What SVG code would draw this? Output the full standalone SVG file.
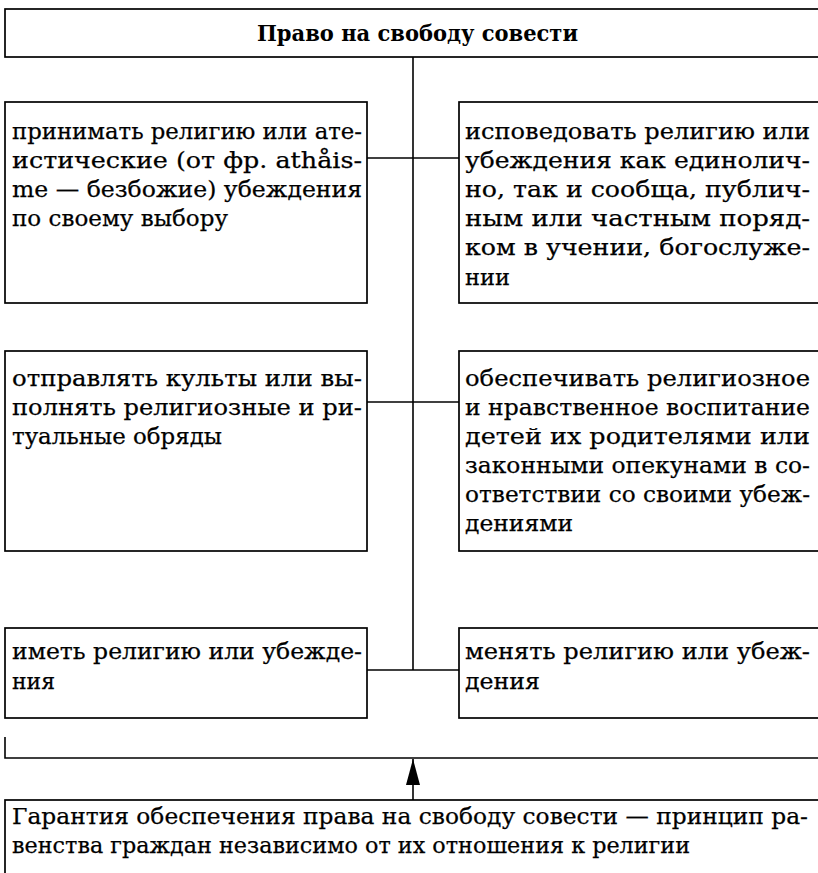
<svg xmlns="http://www.w3.org/2000/svg" width="818" height="873" viewBox="0 0 818 873">
<style>
.box{fill:#fff;stroke:#000;stroke-width:1.7}
.t{font-family:"DejaVu Serif","Liberation Serif",serif;font-size:23px;fill:#000;stroke:#000;stroke-width:0.25}
.h{font-family:"DejaVu Serif","Liberation Serif",serif;font-size:22px;font-weight:bold;fill:#000}
.c{fill:none;stroke:#000;stroke-width:1.6}
</style>
<defs>
<marker id="ah" viewBox="0 0 26 14" refX="26" refY="7" markerWidth="26" markerHeight="14" markerUnits="userSpaceOnUse" orient="auto">
<path d="M0 0 L26 7 L0 14 Z" fill="#000"/>
</marker>
</defs>
<rect width="818" height="873" fill="#fff"/>
<g id="connectors">
<line class="c" x1="413" y1="57" x2="413" y2="670"/>
<line class="c" x1="367" y1="158" x2="459" y2="158"/>
<line class="c" x1="367" y1="402" x2="459" y2="402"/>
<line class="c" x1="367" y1="670" x2="459" y2="670"/>
<path class="c" d="M5 737 V758 H820"/>
<line class="c" x1="413" y1="800" x2="413" y2="759" marker-end="url(#ah)"/>
</g>
<g id="title">
<rect class="box" x="5" y="9" width="820" height="48"/>
<text class="h" x="257" y="41" textLength="321" lengthAdjust="spacingAndGlyphs">Право на свободу совести</text>
</g>
<g id="n1">
<rect class="box" x="5" y="102" width="362" height="201"/>
<text class="t" x="12" y="139" textLength="350" lengthAdjust="spacingAndGlyphs">принимать религию или ате-</text>
<text class="t" x="12" y="168" textLength="350" lengthAdjust="spacingAndGlyphs">истические (от фр.  athåis-</text>
<text class="t" x="12" y="197" textLength="350" lengthAdjust="spacingAndGlyphs">me — безбожие) убеждения</text>
<text class="t" x="12" y="226" textLength="216" lengthAdjust="spacingAndGlyphs">по своему выбору</text>
</g>
<g id="n2">
<rect class="box" x="459" y="102" width="366" height="201"/>
<text class="t" x="465" y="139" textLength="345" lengthAdjust="spacingAndGlyphs">исповедовать религию или</text>
<text class="t" x="465" y="168" textLength="345" lengthAdjust="spacingAndGlyphs">убеждения как единолич-</text>
<text class="t" x="465" y="197" textLength="345" lengthAdjust="spacingAndGlyphs">но, так и сообща, публич-</text>
<text class="t" x="465" y="226" textLength="345" lengthAdjust="spacingAndGlyphs">ным или частным поряд-</text>
<text class="t" x="465" y="255" textLength="345" lengthAdjust="spacingAndGlyphs">ком в учении, богослуже-</text>
<text class="t" x="465" y="285" textLength="45" lengthAdjust="spacingAndGlyphs">нии</text>
</g>
<g id="n3">
<rect class="box" x="5" y="351" width="362" height="200"/>
<text class="t" x="12" y="386" textLength="350" lengthAdjust="spacingAndGlyphs">отправлять культы или вы-</text>
<text class="t" x="12" y="415" textLength="350" lengthAdjust="spacingAndGlyphs">полнять религиозные и ри-</text>
<text class="t" x="12" y="444" textLength="210" lengthAdjust="spacingAndGlyphs">туальные обряды</text>
</g>
<g id="n4">
<rect class="box" x="459" y="351" width="366" height="200"/>
<text class="t" x="465" y="386" textLength="345" lengthAdjust="spacingAndGlyphs">обеспечивать   религиозное</text>
<text class="t" x="465" y="415" textLength="345" lengthAdjust="spacingAndGlyphs">и нравственное воспитание</text>
<text class="t" x="465" y="444" textLength="345" lengthAdjust="spacingAndGlyphs">детей их родителями или</text>
<text class="t" x="465" y="473" textLength="345" lengthAdjust="spacingAndGlyphs">законными опекунами в со-</text>
<text class="t" x="465" y="502" textLength="345" lengthAdjust="spacingAndGlyphs">ответствии со своими убеж-</text>
<text class="t" x="465" y="531" textLength="108" lengthAdjust="spacingAndGlyphs">дениями</text>
</g>
<g id="n5">
<rect class="box" x="5" y="628" width="362" height="90"/>
<text class="t" x="12" y="659" textLength="350" lengthAdjust="spacingAndGlyphs">иметь религию или убежде-</text>
<text class="t" x="12" y="689" textLength="43" lengthAdjust="spacingAndGlyphs">ния</text>
</g>
<g id="n6">
<rect class="box" x="459" y="628" width="366" height="90"/>
<text class="t" x="465" y="659" textLength="345" lengthAdjust="spacingAndGlyphs">менять религию или убеж-</text>
<text class="t" x="465" y="689" textLength="75" lengthAdjust="spacingAndGlyphs">дения</text>
</g>
<g id="guarantee">
<rect class="box" x="5" y="800" width="820" height="100"/>
<text class="t" x="12" y="824" textLength="796" lengthAdjust="spacingAndGlyphs">Гарантия обеспечения права на свободу совести — принцип ра-</text>
<text class="t" x="12" y="853" textLength="678" lengthAdjust="spacingAndGlyphs">венства граждан независимо от их отношения к религии</text>
</g>
</svg>
